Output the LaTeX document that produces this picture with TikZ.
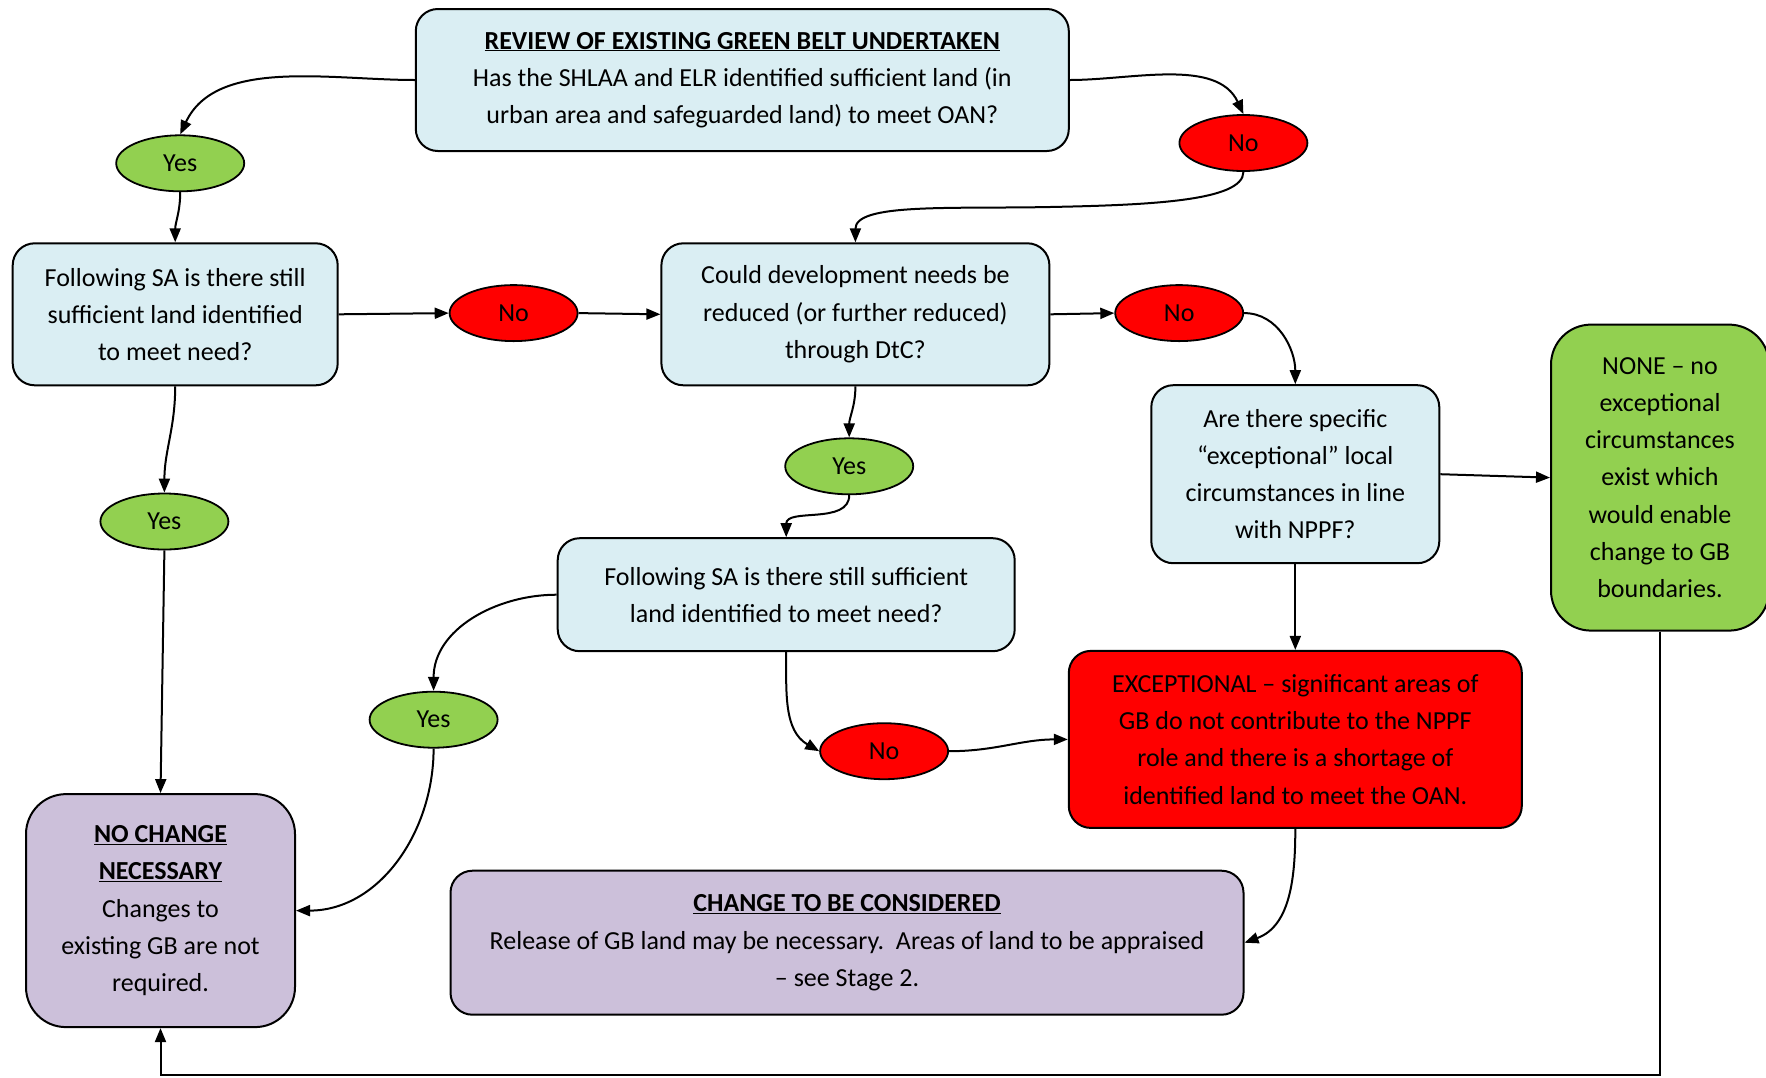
\documentclass[tikz,border=0pt]{standalone}
\usepackage{fontspec}
\setmainfont{Carlito}
\usetikzlibrary{arrows.meta,shapes.geometric}
\definecolor{boxblue}{HTML}{DAEEF3}
\definecolor{boxgreen}{HTML}{92D050}
\definecolor{boxred}{HTML}{FF0000}
\definecolor{boxpurple}{HTML}{CCC0DA}
\begin{document}
\begin{tikzpicture}[x=1pt,y=1pt,
  every node/.style={font=\fontsize{26}{37.2}\selectfont},
  box/.style={draw=black, line width=2pt, rounded corners=22pt, align=center, inner sep=0pt},
  bigbox/.style={box, rounded corners=40pt},
  oval/.style={ellipse, draw=black, line width=1.8pt, minimum width=128pt, minimum height=56pt, inner sep=0pt},
  yesoval/.style={oval, fill=boxgreen},
  nooval/.style={oval, fill=boxred},
  conn/.style={line width=2pt, -{Triangle[length=14pt,width=11pt]}}
]
\useasboundingbox (0,0) rectangle (1766,-1077);

% boxes
\node[box, fill=boxblue, minimum width=653pt, minimum height=142pt] (T) at (742.3,-80)
  {\underline{\textbf{REVIEW OF EXISTING GREEN BELT UNDERTAKEN}}\\Has the SHLAA and ELR identified sufficient land (in\\urban area and safeguarded land) to meet OAN?};
\node[box, fill=boxblue, minimum width=325pt, minimum height=142pt] (A) at (175.2,-314.3)
  {Following SA is there still\\sufficient land identified\\to meet need?};
\node[box, fill=boxblue, minimum width=388pt, minimum height=142pt] (B) at (855.4,-314.3)
  {Could development needs be\\reduced (or further reduced)\\through DtC?};
\node[box, fill=boxblue, minimum width=288pt, minimum height=178pt] (C) at (1295.3,-474.2)
  {Are there specific\\“exceptional” local\\circumstances in line\\with NPPF?};
\node[bigbox, fill=boxgreen, minimum width=218pt, minimum height=306pt] (N) at (1660,-477.6)
  {NONE – no\\exceptional\\circumstances\\exist which\\would enable\\change to GB\\boundaries.};
\node[box, fill=boxblue, minimum width=457pt, minimum height=113pt] (D) at (786.2,-594.7)
  {Following SA is there still sufficient\\land identified to meet need?};
\node[box, fill=boxred, minimum width=453pt, minimum height=177pt] (E) at (1295.3,-739.4)
  {EXCEPTIONAL – significant areas of\\GB do not contribute to the NPPF\\role and there is a shortage of\\identified land to meet the OAN.};
\node[bigbox, fill=boxpurple, minimum width=269pt, minimum height=233pt] (F) at (160.5,-910.6)
  {\underline{\textbf{NO CHANGE}}\\\underline{\textbf{NECESSARY}}\\Changes to\\existing GB are not\\required.};
\node[box, fill=boxpurple, minimum width=793pt, minimum height=144pt] (G) at (847,-942.7)
  {\underline{\textbf{CHANGE TO BE CONSIDERED}}\\Release of GB land may be necessary.\ \ Areas of land to be appraised\\– see Stage 2.};

% ovals
\node[yesoval] (Y1) at (180.2,-163.3) {\raisebox{-5pt}{Yes}};
\node[nooval]  (N1) at (1243.4,-143) {\raisebox{-5pt}{No}};
\node[nooval]  (N2) at (513.6,-313.1) {\raisebox{-5pt}{No}};
\node[nooval]  (N3) at (1179.2,-313.1) {\raisebox{-5pt}{No}};
\node[yesoval] (Y2) at (164.4,-521.5) {\raisebox{-5pt}{Yes}};
\node[yesoval] (Y3) at (849.2,-466.3) {\raisebox{-5pt}{Yes}};
\node[yesoval] (Y4) at (433.6,-719.7) {\raisebox{-5pt}{Yes}};
\node[nooval]  (N4) at (884.1,-751.2) {\raisebox{-5pt}{No}};

% connectors
\draw[conn] (T.west) to[out=180,in=65,looseness=0.9] (Y1.north);
\draw[conn] (T.east) to[out=0,in=115,looseness=0.9] (N1.north);
\draw[conn] (Y1.south) to[out=-90,in=90] (A.north);
\draw[conn] (N1.south) .. controls (1243.4,-201) and (1150,-205) .. (1050,-207)
  .. controls (950,-209) and (855.4,-203) .. (B.north);
\draw[conn] (A.east) -- (N2.west);
\draw[conn] (N2.east) -- (B.west);
\draw[conn] (B.east) -- (N3.west);
\draw[conn] (N3.east) to[out=0,in=90] (C.north);
\draw[conn] (A.south) to[out=-90,in=90] (Y2.north);
\draw[conn] (Y2.south) -- (F.north);
\draw[conn] (B.south) to[out=-90,in=90] (Y3.north);
\draw[conn] (Y3.south) to[out=-90,in=90] (D.north);
\draw[conn] (D.west) to[out=180,in=90] (Y4.north);
\draw[conn] (D.south) to[out=-90,in=150] (N4.west);
\draw[conn] (N4.east) to[out=0,in=180] (E.west);
\draw[conn] (Y4.south) to[out=-90,in=0] (F.east);
\draw[conn] (C.east) -- (N.west);
\draw[conn] (C.south) -- (E.north);
\draw[conn] (E.south) to[out=-90,in=20] (G.east);
\coordinate (bot) at (0,-1074.5);
\draw[conn] (N.south) -- (N.south |- bot) -| (F.south);
\end{tikzpicture}
\end{document}
